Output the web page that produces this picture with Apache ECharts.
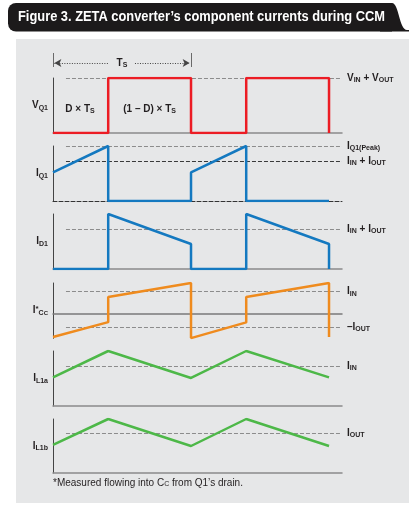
<!DOCTYPE html>
<html><head><meta charset="utf-8">
<script src="https://cdn.jsdelivr.net/npm/echarts@6/dist/echarts.min.js"></script>
<style>html,body{margin:0;padding:0;background:#fff}#c{width:409px;height:510px}</style>
</head><body><div id="c"></div><script>
// Time is in units of the switching period Ts; each waveform is a list of corner points.
const vq1T = [0, 0.4, 0.4, 1, 1, 1.4, 1.4, 2, 2];
const vq1V = [0, 0, 1, 1, 0, 0, 1, 1, 0];
const iq1T = [0, 0.4, 0.4, 1, 1, 1.4, 1.4, 2];
const iq1V = [0.52, 1, 0, 0, 0.52, 1, 0, 0];
const id1T = [0, 0.4, 0.4, 1, 1, 1.4, 1.4, 2, 2];
const id1V = [0, 0, 1, 0.455, 0, 0, 1, 0.455, 0];
const iccT = [0, 0.4, 0.4, 1, 1, 1.4, 1.4, 2, 2];
const iccV = [-0.85, -0.30, 0.63, 1.15, -0.89, -0.31, 0.63, 1.15, -0.85];
const il1aT = [0, 0.4, 1, 1.4, 2];
const il1aV = [0.52, 1, 0.51, 1, 0.52];
const il1bT = [0, 0.4, 1, 1.4, 2];
const il1bV = [0.52, 1, 0.5, 1, 0.5];

// Reference levels (dashed) and their names
const vq1Ref = 1;          // VIN + VOUT
const iq1Peak = 1;         // IQ1(Peak)
const iq1Avg = 0.73;       // IIN + IOUT
const id1Avg = 0.73;       // IIN + IOUT
const iccIn = 0.85;        // IIN
const iccOut = -0.48;      // -IOUT
const il1aRef = 0.73;      // IIN
const il1bRef = 0.74;      // IOUT

const leftNames = ['V{s|Q1}', 'I{s|Q1}', 'I{s|D1}', 'I{p|*}{s|C}{ss|C}', 'I{s|L1a}', 'I{s|L1b}'];
const refNames = {
  vin_vout: 'V{s|IN} + V{s|OUT}',
  peak: 'I{s|Q1(Peak)}',
  iin_iout: 'I{s|IN} + I{s|OUT}',
  iin: 'I{s|IN}',
  miout: '–I{s|OUT}',
  iout: 'I{s|OUT}'
};
const periodLabel = 'T{s|S}';
const periodPos = [0.5, 0.29];
const dutyLabels = ['D × T{s|S}', '(1 – D) × T{s|S}'];
const dutyPos = [[0.196, 0.44], [0.70, 0.44]];
const titleText = 'Figure 3. ZETA converter’s component currents during CCM';
const noteText = '*Measured flowing into C{s|C} from Q1’s drain.';

const X_MAX = 2.094;
const DASH_START = 0.094;
const TXT = '#231f20';
const PANEL = '#e6e7e8';
const RED = '#ec1c24', BLUE = '#1479c0', ORANGE = '#ef8b1e', GREEN = '#4db848';

const rich = {
  s: { fontSize: 7, fontWeight: 'bold', color: TXT, verticalAlign: 'bottom', lineHeight: 6, fontFamily: 'Liberation Sans' },
  p: { fontSize: 8, fontWeight: 'bold', color: TXT, verticalAlign: 'top', lineHeight: 8, fontFamily: 'Liberation Sans' },
  ss: { fontSize: 6, fontWeight: 'bold', color: TXT, verticalAlign: 'bottom', lineHeight: 2, fontFamily: 'Liberation Sans' }
};
const baseText = { fontSize: 10, fontWeight: 'bold', color: TXT, fontFamily: 'Liberation Sans', lineHeight: 12, rich: rich };

const pairs = (t, v) => t.map((x, i) => [x, v[i]]);

// panels: position, y range and baseline style
const panels = [
  { top: 53, height: 14, min: 0, max: 1, hidden: true },
  { top: 78, height: 55, min: 0, max: 1, base: { color: '#8a8a8a', width: 1.5 } },
  { top: 146, height: 55, min: 0, max: 1, base: { color: '#333', width: 1, type: [4, 2] } },
  { top: 214, height: 55, min: 0, max: 1, base: { color: '#8a8a8a', width: 1.5 } },
  { top: 283, height: 55.35, min: -0.9, max: 1.15, base: { color: '#7a7a7a', width: 1.5 } },
  { top: 351, height: 55, min: 0, max: 1, base: { color: '#8a8a8a', width: 1.5 } },
  { top: 419, height: 54, min: 0, max: 1, base: { color: '#8a8a8a', width: 1.5 } }
];

const grid = panels.map(p => ({ left: 53, width: 289, top: p.top, height: p.height }));
const xAxis = panels.map((p, i) => ({
  type: 'value', gridIndex: i, min: 0, max: X_MAX,
  axisLine: p.hidden ? { show: false } : { show: true, onZero: true, lineStyle: p.base },
  axisTick: { show: false }, axisLabel: { show: false }, splitLine: { show: false }
}));
const yAxis = panels.map((p, i) => ({
  type: 'value', gridIndex: i, min: p.min, max: p.max,
  name: i === 0 ? '' : leftNames[i - 1], nameLocation: 'middle', nameRotate: 0, nameGap: 5,
  nameTextStyle: Object.assign({}, baseText),
  axisLine: { show: !p.hidden, lineStyle: { color: '#444', width: 1 } },
  axisTick: { show: false }, axisLabel: { show: false }, splitLine: { show: false }
}));

function refLine(value, name, color) {
  const item = [
    { coord: [DASH_START, value], lineStyle: { color: color || '#8c8c8c', type: [4, 2], width: 1 } },
    { coord: [X_MAX, value] }
  ];
  item[0].label = name ? Object.assign({ show: true, position: 'end', distance: 5, formatter: name }, baseText) : { show: false };
  return item;
}

function wave(i, t, v, color, refs) {
  return {
    type: 'line', xAxisIndex: i, yAxisIndex: i, data: pairs(t, v),
    symbol: 'none', z: 3, lineStyle: { color: color, width: 2.5 }, itemStyle: { color: color },
    markLine: { silent: true, symbol: 'none', z: 1, animation: false, data: refs }
  };
}

const tick = { color: '#6a6a6a', width: 1, type: 'solid' };
const dots = { color: '#444', width: 1, type: [1, 1.5] };

const series = [
  // period dimension arrow above the switching waveform
  {
    type: 'line', xAxisIndex: 0, yAxisIndex: 0, data: [[0, 0]], symbol: 'none', lineStyle: { width: 0 },
    markLine: {
      silent: true, animation: false, symbol: 'none', label: { show: false },
      data: [
        [{ coord: [0, 0], lineStyle: tick }, { coord: [0, 1] }],
        [{ coord: [1, 0], lineStyle: tick }, { coord: [1, 1] }],
        [{ coord: [0.01, periodPos[1]], symbol: 'arrow', symbolSize: [6, 7], lineStyle: dots, itemStyle: { color: '#222' } },
         { coord: [0.40, periodPos[1]], symbol: 'none' }],
        [{ coord: [0.594, periodPos[1]], symbol: 'none', lineStyle: dots, itemStyle: { color: '#222' } },
         { coord: [0.99, periodPos[1]], symbol: 'arrow', symbolSize: [6, 7] }]
      ]
    },
    markPoint: {
      symbol: 'circle', symbolSize: 0, silent: true, animation: false,
      label: Object.assign({ show: true, position: 'inside' }, baseText),
      data: [{ coord: periodPos, label: { formatter: periodLabel } }]
    }
  },
  Object.assign(wave(1, vq1T, vq1V, RED, [refLine(vq1Ref, refNames.vin_vout)]), {
    markPoint: {
      symbol: 'circle', symbolSize: 0, silent: true, animation: false,
      label: Object.assign({ show: true, position: 'inside' }, baseText),
      data: dutyLabels.map((d, k) => ({ coord: dutyPos[k], label: { formatter: d } }))
    }
  }),
  wave(2, iq1T, iq1V, BLUE, [refLine(iq1Peak, refNames.peak), refLine(iq1Avg, refNames.iin_iout, '#3a3a3a')]),
  wave(3, id1T, id1V, BLUE, [refLine(id1Avg, refNames.iin_iout)]),
  wave(4, iccT, iccV, ORANGE, [refLine(iccIn, refNames.iin), refLine(iccOut, refNames.miout)]),
  wave(5, il1aT, il1aV, GREEN, [refLine(il1aRef, refNames.iin)]),
  wave(6, il1bT, il1bV, GREEN, [refLine(il1bRef, refNames.iout)])
];

// header tab outline: rounded left end, curved right shoulder
function headerPoints() {
  const pts = [];
  const p0 = [392, 3], c1 = [399, 3], c2 = [399, 30], p3 = [407, 30];
  for (let k = 0; k <= 16; k++) {
    const u = k / 16, a = (1 - u) * (1 - u) * (1 - u), b = 3 * (1 - u) * (1 - u) * u, c = 3 * (1 - u) * u * u, d = u * u * u;
    pts.push([a * p0[0] + b * c1[0] + c * c2[0] + d * p3[0], a * p0[1] + b * c1[1] + c * c2[1] + d * p3[1]]);
  }
  pts.push([409, 30], [409, 31.5], [380, 31.5], [380, 3]);
  return pts;
}

// condensed heavy title: squeeze the bold sans face to the tab width
const TITLE_FONT = 'bold 14px "Liberation Sans", Arial, sans-serif';
const TITLE_WIDTH = 367;
const measureCtx = document.createElement('canvas').getContext('2d');
measureCtx.font = TITLE_FONT;
const titleScale = TITLE_WIDTH / measureCtx.measureText(titleText).width;

const chart = echarts.init(document.getElementById('c'), null, { renderer: 'canvas' });
chart.setOption({
  animation: false,
  backgroundColor: '#ffffff',
  graphic: [
    { type: 'rect', z: -10, shape: { x: 16, y: 39, width: 393, height: 464 }, style: { fill: PANEL } },
    { type: 'rect', z: -5, shape: { x: 8, y: 3, width: 384, height: 28.5, r: [8, 0, 0, 8] }, style: { fill: '#1c1a1b' } },
    { type: 'polygon', z: -5, shape: { points: headerPoints() }, style: { fill: '#1c1a1b' } },
    { type: 'text', x: 18, y: 17, z: 10, scaleX: titleScale, style: { text: titleText, fill: '#ffffff', font: TITLE_FONT, verticalAlign: 'middle' } },
    { type: 'text', x: 53, y: 483, z: 10, style: { text: noteText, fill: TXT, fontSize: 10, fontFamily: 'Liberation Sans', verticalAlign: 'middle',
      rich: { s: { fontSize: 7, fill: TXT, verticalAlign: 'bottom', lineHeight: 6, fontFamily: 'Liberation Sans' } } } }
  ],
  grid: grid, xAxis: xAxis, yAxis: yAxis, series: series
});
</script></body></html>
